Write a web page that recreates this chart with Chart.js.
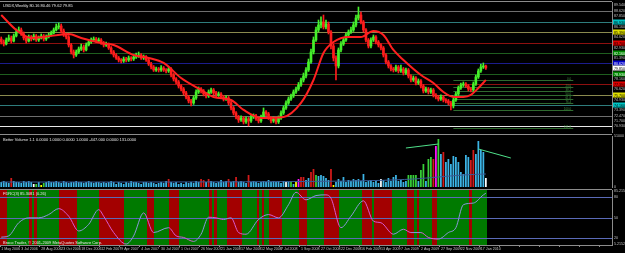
<!DOCTYPE html>
<html>
<head>
<meta charset="utf-8">
<script src="https://cdn.jsdelivr.net/npm/chart.js@4.4.1/dist/chart.umd.min.js"></script>
<style>
  html, body { margin: 0; padding: 0; background: #000; overflow: hidden; }
  #wrap { position: relative; width: 625px; height: 253px; background: #000; }
  canvas { position: absolute; left: 0; }
  .sep { position: absolute; left: 0; width: 612px; height: 1px; background: #8c8c8c; }
  .txt { position: absolute; left: 3px; color: #e8e8e8; font: 4px "Liberation Sans", sans-serif; white-space: nowrap; }
</style>
</head>
<body>
<div id="wrap">
  <canvas id="price" width="625" height="134" style="top:0"></canvas>
  <canvas id="volume" width="625" height="55" style="top:134px"></canvas>
  <canvas id="osc" width="625" height="64" style="top:189px"></canvas>
  <div class="sep" style="top:1px"></div>
  <div class="sep" style="top:134px"></div>
  <div class="sep" style="top:189px"></div>
  <div class="txt" style="top:3px">USDX,Weekly 80.16 80.46 79.62 79.85</div>
  <div class="txt" style="top:137px">Better Volume 1.1 0.0000 1.0000 0.0000 1.0000 -447.000 0.0000 131.0000</div>
  <div class="txt" style="top:191px">FDRC(3) 85.3081 (0.26)</div>
  <div class="txt" style="top:240px">Broco Trader, © 2001-2009 MetaQuotes Software Corp.</div>
</div>
<script>
// weekly USDX, 1 May 2006 .. end Jan 2010
const opens = [84.31,83.85,83.54,84.16,84.47,84.00,84.77,85.39,85.70,85.08,
84.47,84.00,84.62,84.31,84.77,84.16,84.47,84.77,84.31,84.62,
84.93,85.23,85.70,86.16,86.31,85.54,84.93,84.62,83.39,82.31,
81.85,82.31,82.77,83.08,82.62,83.39,83.85,84.16,84.31,84.00,
84.16,83.70,83.39,83.54,82.93,82.31,81.85,81.39,81.08,80.93,
81.23,81.08,81.39,81.23,81.54,81.70,81.85,81.39,81.54,81.08,
80.47,80.00,79.54,79.70,79.54,79.85,79.54,79.39,79.70,78.77,
78.16,77.70,77.08,76.62,76.01,75.39,74.78,74.47,75.24,76.16,
76.62,76.31,75.85,75.55,76.16,76.47,76.01,75.70,75.85,75.39,
75.08,75.24,74.47,73.70,72.93,72.32,71.85,72.16,71.55,72.01,
71.70,72.32,72.47,72.01,71.70,72.32,73.08,72.78,72.16,71.70,
72.01,71.55,72.16,72.93,73.70,74.47,75.08,75.55,76.16,76.62,
77.24,78.00,78.62,79.54,80.77,82.31,84.16,85.70,86.46,86.93,
86.16,86.62,85.39,83.23,81.39,80.16,82.62,83.54,84.16,84.93,
85.39,85.70,86.46,87.54,88.00,86.93,85.70,84.16,83.23,84.16,
84.62,83.85,83.39,82.93,81.85,80.77,80.16,79.70,79.54,80.00,
79.39,79.70,79.08,79.54,78.62,78.00,78.31,77.54,77.85,77.08,
76.31,76.62,76.16,76.47,75.70,75.39,75.08,75.39,74.93,74.78,
74.47,74.01,74.93,75.85,76.77,77.24,77.39,77.08,76.62,76.47,
77.39,78.47,79.39,80.00,80.16];
const highs = [84.62,84.16,84.47,84.93,84.77,85.08,85.85,86.16,86.00,85.39,
84.70,84.93,84.85,85.08,85.00,84.77,85.08,85.00,84.93,85.23,
85.54,86.00,86.62,86.77,86.62,85.85,85.23,84.85,83.62,82.62,
82.62,83.08,83.54,83.39,83.70,84.16,84.47,84.62,84.54,84.47,
84.39,83.93,83.85,83.70,83.16,82.54,82.08,81.62,81.31,81.54,
81.47,81.70,81.62,81.85,82.16,82.31,82.08,81.85,81.77,81.31,
80.70,80.23,80.00,79.93,80.23,80.08,79.77,80.00,79.93,79.00,
78.39,77.93,77.31,76.85,76.24,75.62,75.01,75.55,76.47,76.93,
76.85,76.54,76.08,76.47,76.77,76.70,76.24,76.16,76.08,75.62,
75.55,75.47,74.70,73.93,73.16,72.55,72.47,72.39,72.32,72.24,
72.62,72.78,72.70,72.24,72.62,73.70,73.31,73.01,72.39,72.32,
72.24,72.47,73.24,74.01,74.78,75.39,75.85,76.47,76.93,77.62,
78.31,79.08,79.93,81.23,82.77,84.62,86.16,87.23,87.70,88.00,
87.23,86.93,85.62,83.54,81.70,82.93,83.93,84.47,85.23,85.70,
86.16,86.93,88.00,89.23,88.46,87.16,85.93,84.39,84.47,84.93,
84.85,84.08,83.62,83.16,82.08,81.00,80.39,79.93,80.31,80.23,
80.31,79.93,79.85,79.77,78.85,78.62,78.54,78.16,78.08,77.31,
76.93,76.85,76.77,76.70,75.93,75.62,75.70,75.62,75.16,75.01,
74.70,75.24,76.16,77.08,77.54,77.70,77.62,77.31,76.85,77.70,
78.77,79.70,80.46,80.62,80.31];
const lows = [83.54,83.23,83.39,83.93,83.70,83.85,84.62,85.23,84.85,84.16,
83.70,83.85,84.00,84.16,83.93,83.93,84.31,84.00,84.08,84.47,
84.77,85.08,85.54,85.85,85.23,84.70,84.31,83.08,82.00,81.39,
81.62,82.08,82.54,82.31,82.47,83.23,83.62,83.93,83.77,83.77,
83.47,83.08,83.16,82.70,82.00,81.54,81.16,80.77,80.62,80.70,
80.77,80.85,80.93,81.00,81.31,81.47,81.16,81.16,80.85,80.23,
79.70,79.31,79.31,79.23,79.31,79.31,79.08,79.16,78.47,77.85,
77.39,76.77,76.31,75.70,75.08,74.47,74.00,74.24,75.01,75.93,
76.01,75.55,75.24,75.31,75.93,75.70,75.39,75.47,75.16,74.77,
74.85,74.16,73.39,72.62,72.01,71.47,71.62,71.24,71.31,70.93,
71.47,72.08,71.77,71.39,71.47,72.16,72.47,71.93,71.39,71.47,
71.24,71.31,71.93,72.70,73.47,74.24,74.85,75.31,75.93,76.39,
77.00,77.70,78.31,79.31,80.54,82.00,83.93,85.39,86.00,85.85,
85.85,85.08,82.77,80.93,78.00,79.85,82.31,83.31,83.93,84.62,
85.16,85.47,86.16,87.23,86.62,85.39,83.85,82.93,82.93,83.93,
83.54,83.08,82.62,81.54,80.47,79.85,79.39,79.23,79.31,79.08,
79.16,78.77,78.85,78.31,77.70,77.77,77.23,77.31,76.77,76.01,
76.08,75.85,75.93,75.39,75.08,74.77,74.85,74.62,74.47,74.16,
73.39,73.70,74.70,75.62,76.54,77.00,76.85,76.31,76.16,76.24,
77.16,78.24,79.16,79.77,79.62];
const closes = [83.85,83.54,84.16,84.47,84.00,84.77,85.39,85.70,85.08,84.47,
84.00,84.62,84.31,84.77,84.16,84.47,84.77,84.31,84.62,84.93,
85.23,85.70,86.16,86.31,85.54,84.93,84.62,83.39,82.31,81.85,
82.31,82.77,83.08,82.62,83.39,83.85,84.16,84.31,84.00,84.16,
83.70,83.39,83.54,82.93,82.31,81.85,81.39,81.08,80.93,81.23,
81.08,81.39,81.23,81.54,81.70,81.85,81.39,81.54,81.08,80.47,
80.00,79.54,79.70,79.54,79.85,79.54,79.39,79.70,78.77,78.16,
77.70,77.08,76.62,76.01,75.39,74.78,74.47,75.24,76.16,76.62,
76.31,75.85,75.55,76.16,76.47,76.01,75.70,75.85,75.39,75.08,
75.24,74.47,73.70,72.93,72.32,71.85,72.16,71.55,72.01,71.70,
72.32,72.47,72.01,71.70,72.32,73.08,72.78,72.16,71.70,72.01,
71.55,72.16,72.93,73.70,74.47,75.08,75.55,76.16,76.62,77.24,
78.00,78.62,79.54,80.77,82.31,84.16,85.70,86.46,86.93,86.16,
86.62,85.39,83.23,81.39,80.16,82.62,83.54,84.16,84.93,85.39,
85.70,86.46,87.54,88.00,86.93,85.70,84.16,83.23,84.16,84.62,
83.85,83.39,82.93,81.85,80.77,80.16,79.70,79.54,80.00,79.39,
79.70,79.08,79.54,78.62,78.00,78.31,77.54,77.85,77.08,76.31,
76.62,76.16,76.47,75.70,75.39,75.08,75.39,74.93,74.78,74.47,
74.01,74.93,75.85,76.77,77.24,77.39,77.08,76.62,76.47,77.39,
78.47,79.39,80.00,80.16,79.85];

// red moving average, read at a few bars
const maIdx = [0,6,12,17,27,32,40,45,53,59,65,72,80,85,92,97,104,113,120,125,129,133,139,144,149,153,157,161,168,173,177,181,185,188,191,194];
const maVal = [88.0,85.7,84.47,84.62,85.08,84.47,83.7,83.39,81.85,81.39,80.62,78.31,76.47,75.39,74.93,73.39,72.16,72.32,74.47,78.0,82.16,83.85,84.62,84.62,85.54,84.93,82.62,81.08,78.77,77.54,76.16,75.39,75.39,75.7,76.77,78.0];

// horizontal levels on the price panel
const levelVals = [88.62,86.93,85.39,83.70,82.16,80.62,78.93,77.39,75.70,74.16,72.47,70.93];
const levelCols = ['#6e6e6e','#2e7d7d','#8a8a4e','#8e1010','#1f5e1f','#1c1c8c','#1f5e1f','#8e1010','#8a8a4e','#2e7d7d','#6e6e6e','#e8e8e8'];
const levelBoxes = [null,'#00c4c4','#dede00','#e00000','#008a00','#0000c8','#008a00','#e00000','#dede00','#00c4c4',null,null];
const priceTicks = [89.54,88.62,87.85,86.16,84.62,82.93,81.39,78.16,76.62,74.93,73.39,72.47,71.70,70.93];
const lastPrice = 79.85;

// fibonacci drawn on the last swing
const fibRatios = [0,23.6,38.2,50,61.8,76.4,100,161.8];
const fib0 = 78.0, fib100 = 73.39, fibFrom = 181, fibTo = 229;

// volume (thousand ticks) and Better Volume bar type
const volumes = [5,6,5,4,9,6,5,5,4,6,
5,6,5,3,3,5,2,4,5,6,
5,5,6,5,4,6,5,4,5,5,
6,5,5,4,5,6,5,4,5,5,
4,5,4,5,6,5,3,5,4,3,
5,4,6,5,5,4,3,5,5,4,
5,4,3,4,5,4,6,8,5,4,
5,3,4,3,5,4,5,4,6,5,
8,7,5,8,6,5,4,5,7,5,
6,8,5,6,10,5,6,5,4,12,
5,6,5,4,5,6,5,7,5,6,
5,6,4,6,5,5,5,3,6,8,
10,10,7,9,15,18,12,11,12,11,
9,7,18,2,5,8,6,10,5,7,
6,8,7,8,6,13,5,6,7,5,
6,4,8,7,5,9,6,10,12,6,
7,5,6,12,12,12,12,6,17,23,
6,28,30,28,41,48,33,35,25,28,
23,31,30,25,15,13,32,30,27,37,
33,46,37,35,9];
const volTypes = ('bbbbrbbbbb' + 'bbbwgbygbb' + 'bbbbbbbbbb' + 'bbbbbbbbbb' + 'bbbbbbbbbb' +
  'bbbbbbbbbb' + 'bbbbbbbrbb' + 'bbbbbbbbbb' + 'rrbrbbbbbb' + 'brbbrbbbbr' +
  'bbbbbbbbbb' + 'bbbbwbgbym' + 'rrbbrrgbbb' + 'bbrybbbbbb' + 'bbbbbbbbbb' +
  'bbwbbbbbbb' + 'bbbggggbgg' + 'bggrmgbrbb' + 'bbbbbbbbrr' + 'bbbbw').split('');
const volMaIdx = [0,60,120,150,165,175,185,194];
const volMaVal = [5,5,5.5,6.5,8,10,12,13];
const trend1 = [[162,39],[175,43]];
const trend2 = [[191,38],[204,29]];

// oscillator panel
const oscIdx = [0,3,7,11,15,19,23,27,31,35,39,41,45,50,53,57,61,67,70,73,77,80,83,86,89,92,95,98,103,107,111,115,118,122,126,130,132,136,140,145,149,152,157,161,164,168,171,175,179,182,185,189,193,194];
const oscVal = [21.4,23.3,42.4,49.5,49.5,54.3,62.9,51.9,30.4,40,61.4,51.9,28.1,11.4,23.3,56.7,28.1,35.2,23.3,21,15.2,25.7,50.4,49.5,47.1,49.5,28.1,25.7,47.1,54.3,49.5,68.6,86.7,75.7,81.9,82.9,78.1,35.2,51.9,74.3,44.7,42.4,25.7,32.9,28.1,28.1,21,18.6,28.1,35.2,68.6,71,82.9,85.3];
const oscZones = ('rrr' + 'ggggggggg' + 'rgr' + 'ggggggggg' + 'rrrrrrr' + 'ggggggggg' + 'rrrrrrrrrr' +
  'ggggggggg' + 'rrr' + 'gggggg' + 'rrrr' + 'gggggggggggg' + 'r' + 'g' + 'r' + 'gggg' + 'rrrrrr' +
  'gggggg' + 'r' + 'g' + 'r' + 'gg' + 'rrrrr' + 'ggggggg' + 'rrr' + 'ggggggg' + 'rrrrrr' +
  'ggggggggg' + 'rrrr' + 'g' + 'rrrrrrr' + 'gggggg' + 'rrr' + 'g' + 'r' + 'g' + 'gggg' + 'rr' +
  'ggggggggggggg' + 'r' + 'gggggg').split('');
const oscLevels = [80, 50, 20];
const oscTicks = [88, 80, 50, 20, 12];

const dateTicks = ['1 May 2006','3 Jul 2006','28 Aug 2006','23 Oct 2006','18 Dec 2006','12 Feb 2007','9 Apr 2007',
  '4 Jun 2007','30 Jul 2007','1 Oct 2007','26 Nov 2007','21 Jan 2008','17 Mar 2008','12 May 2008','7 Jul 2008',
  '1 Sep 2008','27 Oct 2008','22 Dec 2008','16 Feb 2009','13 Apr 2009','7 Jun 2009','2 Aug 2009','27 Sep 2009',
  '22 Nov 2009','17 Jan 2010'];

const SLOTS = 245;
const slots = Array.from({ length: SLOTS }, (_, i) => i);
const pts = (xs, ys) => xs.map((x, i) => ({ x: x, y: ys[i] }));

Chart.defaults.font.family = '"Liberation Sans", sans-serif';
Chart.defaults.font.size = 4;
Chart.defaults.color = '#c8c8c8';

function yAxis(min, max, ticks, fmt) {
  return {
    position: 'right', min: min, max: max,
    grid: { display: false, drawTicks: false },
    border: { display: true, color: '#8c8c8c' },
    ticks: { autoSkip: false, padding: 2, color: '#c0c0c0', font: { size: 3.6 }, callback: fmt },
    afterBuildTicks(s) { s.ticks = ticks.map(v => ({ value: v })); },
    afterFit(s) { s.width = 13; s.paddingTop = 0; s.paddingBottom = 0; }
  };
}

function baseOpts(pad, y, xAxis) {
  return {
    responsive: false, animation: false, events: [],
    layout: { padding: pad },
    plugins: { legend: { display: false }, tooltip: { enabled: false } },
    scales: { x: xAxis || { display: false, offset: true }, y: y }
  };
}

function overlay(cfg) {
  return {
    id: 'overlay',
    beforeDatasetsDraw(chart) {
      const { ctx, chartArea: a, scales: { x, y } } = chart;
      ctx.save();
      if (cfg.zones) {
        cfg.zones.forEach((z, i) => {
          const cx = x.getPixelForValue(i);
          ctx.fillStyle = z === 'r' ? '#a30000' : '#007a00';
          ctx.fillRect(Math.floor(cx - 1.25), a.top, 3, a.bottom - a.top);
        });
      }
      (cfg.lines || []).forEach(l => {
        const py = Math.round(y.getPixelForValue(l.v)) + 0.5;
        ctx.strokeStyle = l.c; ctx.lineWidth = 1;
        ctx.beginPath(); ctx.moveTo(a.left, py); ctx.lineTo(a.right, py); ctx.stroke();
      });
      if (cfg.fib) {
        const x0 = x.getPixelForValue(fibFrom), x1 = x.getPixelForValue(fibTo);
        ctx.strokeStyle = '#2f6a2f'; ctx.fillStyle = '#3f8a3f';
        ctx.font = '3px "Liberation Sans"'; ctx.textAlign = 'right';
        fibRatios.forEach(r => {
          const py = Math.round(y.getPixelForValue(fib0 + (fib100 - fib0) * r / 100)) + 0.5;
          ctx.beginPath(); ctx.moveTo(x0, py); ctx.lineTo(x1, py); ctx.stroke();
          ctx.fillText(r.toFixed(1), x1 - 2, py - 1);
        });
      }
      ctx.restore();
    },
    afterDraw(chart) {
      if (!cfg.boxes) return;
      const { ctx, scales: { y } } = chart;
      ctx.save();
      ctx.font = '3.6px "Liberation Sans"'; ctx.textBaseline = 'middle';
      cfg.boxes.forEach(b => {
        const py = Math.round(y.getPixelForValue(b.v));
        ctx.fillStyle = b.bg; ctx.fillRect(613, py - 2.5, 12, 5);
        ctx.fillStyle = b.fg; ctx.fillText(b.v.toFixed(3), 614, py + 0.5);
      });
      ctx.restore();
    }
  };
}

// ---- price panel
const candleCol = closes.map((c, i) => c >= opens[i] ? '#45f02a' : '#ff1c1c');
const boxes = [];
levelVals.forEach((v, i) => { if (levelBoxes[i]) boxes.push({ v: v, bg: levelBoxes[i], fg: levelBoxes[i] === '#0000c8' || levelBoxes[i] === '#008a00' ? '#ffffff' : '#000000' }); });
boxes.push({ v: lastPrice, bg: '#ffffff', fg: '#000000' });

new Chart(document.getElementById('price'), {
  type: 'bar',
  data: {
    labels: slots,
    datasets: [
      { type: 'line', data: pts(maIdx, maVal), borderColor: '#ff2020', borderWidth: 2, pointRadius: 0, cubicInterpolationMode: 'monotone', order: 0 },
      { data: closes.map((c, i) => [opens[i], c]), backgroundColor: candleCol, barThickness: 2, minBarLength: 1, grouped: false, order: 1 },
      { data: highs.map((h, i) => [lows[i], h]), backgroundColor: candleCol, barThickness: 1, grouped: false, order: 2 }
    ]
  },
  options: baseOpts({ top: 2, bottom: 2 }, yAxis(70, 90, priceTicks, v => v.toFixed(3))),
  plugins: [overlay({ lines: levelVals.map((v, i) => ({ v: v, c: levelCols[i] })), fib: true, boxes: boxes })]
});

// ---- volume panel
const volColors = { b: '#3cb4e6', r: '#d41a1a', g: '#38d038', w: '#ffffff', y: '#ffff00', m: '#ff10ff' };
new Chart(document.getElementById('volume'), {
  type: 'bar',
  data: {
    labels: slots,
    datasets: [
      { type: 'line', data: pts(volMaIdx, volMaVal), borderColor: '#3a5a96', borderWidth: 1, pointRadius: 0, tension: 0.3, order: 0 },
      { type: 'line', data: trend1.map(p => ({ x: p[0], y: p[1] })), borderColor: '#4fe08a', borderWidth: 1, pointRadius: 0, order: 0 },
      { type: 'line', data: trend2.map(p => ({ x: p[0], y: p[1] })), borderColor: '#4fe08a', borderWidth: 1, pointRadius: 0, order: 0 },
      { data: volumes, backgroundColor: volTypes.map(t => volColors[t]), barPercentage: 0.7, categoryPercentage: 1, order: 1 }
    ]
  },
  options: baseOpts({ top: 2, bottom: 2 }, yAxis(0, 51, [51, 0], v => v ? (v * 1000).toString() : '0'))
});

// ---- oscillator panel
const xDates = {
  display: true, offset: true,
  grid: { display: true, drawOnChartArea: false, drawTicks: true, tickLength: 2, color: c => c.index % 8 === 0 ? '#909090' : 'rgba(0,0,0,0)' },
  border: { display: true, color: '#8c8c8c' },
  ticks: { autoSkip: false, maxRotation: 0, align: 'start', padding: 0, color: '#c8c8c8', font: { size: 3.6 },
    callback: (v, i) => (i % 8 === 0 && dateTicks[i / 8]) ? dateTicks[i / 8] : '' },
  afterFit(s) { s.height = 8; }
};
new Chart(document.getElementById('osc'), {
  type: 'bar',
  data: {
    labels: slots,
    datasets: [
      { type: 'line', data: pts(oscIdx, oscVal), borderWidth: 1, pointRadius: 0, cubicInterpolationMode: 'monotone',
        borderColor: '#8a8ad0',
        segment: { borderColor: c => c.p1.parsed.y >= c.p0.parsed.y ? '#8a98d8' : '#d85ad0' } }
    ]
  },
  options: baseOpts({ top: 1, bottom: 0 }, yAxis(10, 90, oscTicks, v => v === 88 ? '85.2152' : v === 12 ? '5.2152' : String(v)), xDates),
  plugins: [overlay({ zones: oscZones, lines: oscLevels.map(v => ({ v: v, c: '#5a6ab8' })) })]
});
</script>
</body>
</html>
